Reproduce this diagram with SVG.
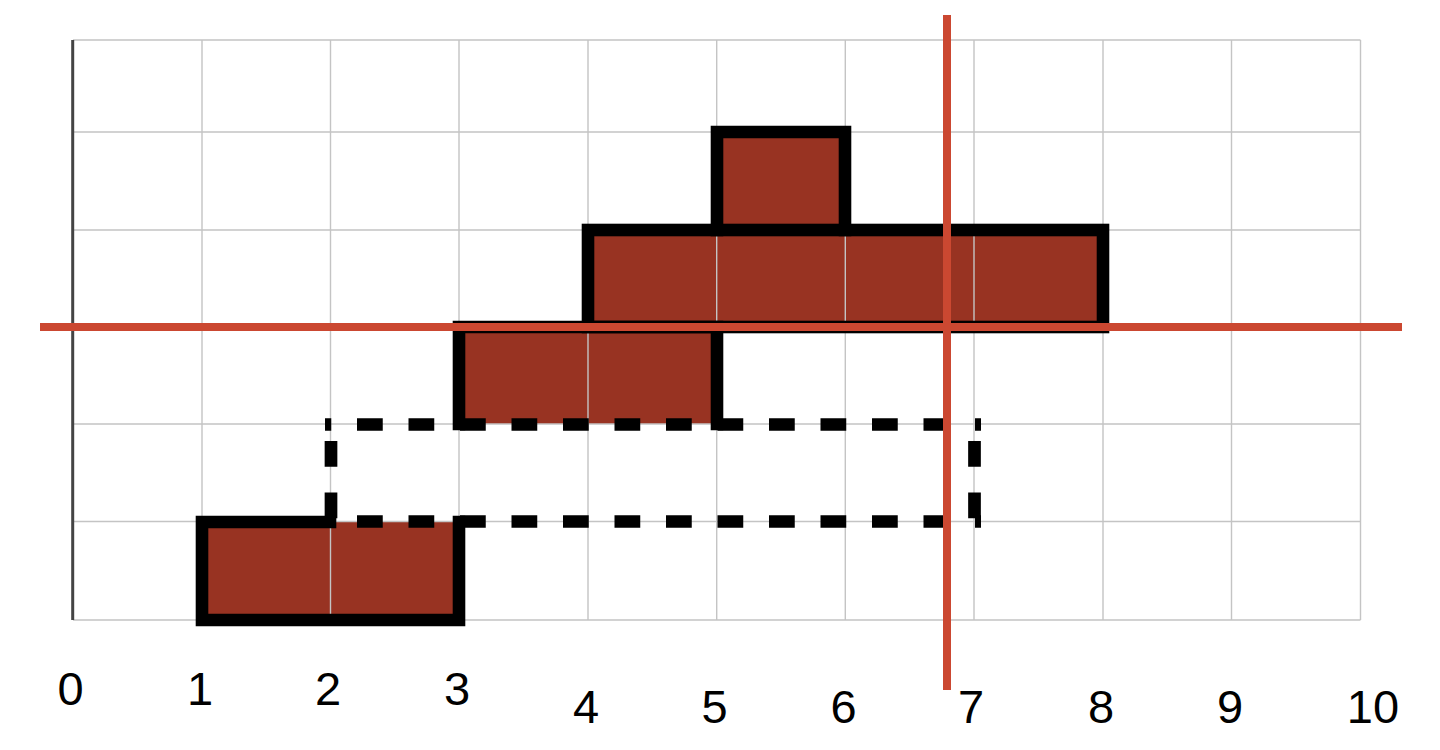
<svg xmlns="http://www.w3.org/2000/svg" width="1440" height="750" viewBox="0 0 1440 750">
  <style>
    .fill { fill: #983322; stroke: none; }
    .grid { stroke: #c4c4c4; stroke-width: 1.4; fill: none; }
    .axis { stroke: #444444; stroke-width: 3; fill: none; }
    .solid { stroke: #000000; stroke-width: 12.6; fill: none; stroke-linejoin: miter; stroke-linecap: square; }
    .dash { stroke: #000000; stroke-width: 12.7; fill: none; stroke-dasharray: 25.75 25.75; stroke-linecap: butt; }
    .red { stroke: #cb4831; stroke-width: 8; fill: none; }
    .lbl { font-family: "Liberation Sans", Arial, Helvetica, sans-serif; font-size: 47px; fill: #000000; text-anchor: middle; }
  </style>
  <rect width="1440" height="750" fill="#ffffff"/>

  <g id="bar-fills">
    <rect class="fill" x="202" y="522" width="257" height="98"/>
    <rect class="fill" x="459" y="327" width="258" height="97"/>
    <rect class="fill" x="588" y="230" width="515" height="97"/>
    <rect class="fill" x="717" y="132" width="128" height="98"/>
  </g>

  <g id="grid">
    <path class="grid" d="M73,40 H1360.5 M73,132 H1360.5 M73,230 H1360.5 M73,327 H1360.5 M73,424 H1360.5 M73,521.5 H1360.5 M73,620 H1360.5"/>
    <path class="grid" d="M202,40 V620 M330.5,40 V620 M459,40 V620 M588,40 V620 M716.7,40 V620 M845.3,40 V620 M974,40 V620 M1103,40 V620 M1231.5,40 V620 M1360.5,40 V620"/>
    <path class="axis" d="M72.7,40 V620"/>
  </g>

  <g id="bars">
    <path id="bar-bottom" class="solid" d="M330,522 H202 V620 H459 V522"/>
    <path id="bar-middle" class="solid" d="M459,424 V327 H717 V424"/>
    <rect id="bar-big" class="solid" x="588" y="230" width="515" height="97"/>
    <path id="bar-top" class="solid" d="M717,230 V132 H845 V230"/>
  </g>

  <g id="dashed-region">
    <path class="dash" d="M325,424.5 H981" stroke-dashoffset="19.5"/>
    <path class="dash" d="M325,521.5 H981" stroke-dashoffset="19.5"/>
    <path class="dash" d="M331,430 V522" stroke-dashoffset="40.5"/>
    <path class="dash" d="M974.5,430 V522" stroke-dashoffset="40.5"/>
  </g>

  <g id="connectors">
    <path class="red" d="M40,327 H1402"/>
    <path class="red" d="M947,15 V690"/>
  </g>

  <g id="labels">
    <text class="lbl" x="70.5" y="705">0</text>
    <text class="lbl" x="200" y="705">1</text>
    <text class="lbl" x="328" y="705">2</text>
    <text class="lbl" x="457" y="705">3</text>
    <text class="lbl" x="586" y="722.5">4</text>
    <text class="lbl" x="714.5" y="722.5">5</text>
    <text class="lbl" x="843.5" y="722.5">6</text>
    <text class="lbl" x="971" y="722.5">7</text>
    <text class="lbl" x="1101" y="722.5">8</text>
    <text class="lbl" x="1230" y="722.5">9</text>
    <text class="lbl" x="1373" y="722.5">10</text>
  </g>
</svg>
